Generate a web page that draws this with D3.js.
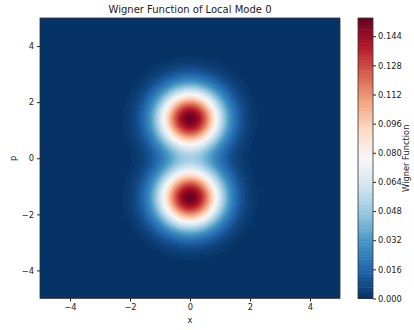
<!DOCTYPE html>
<html>
<head>
<meta charset="utf-8">
<script src="https://cdn.jsdelivr.net/npm/d3@7"></script>
<style>
  body { margin: 0; background: #fff; }
  text { font-family: "DejaVu Sans", sans-serif; fill: #222; }
  .axis path, .axis line { stroke: #222; }
</style>
</head>
<body>
<div id="app"></div>
<script>
// values
const xTicks = [ -4, -2, 0, 2, 4 ];
const pTicks = [ -4, -2, 0, 2, 4 ];
const cbTicks = [ 0, 0.016, 0.032, 0.048, 0.064, 0.080, 0.096, 0.112, 0.128, 0.144 ];
const cbMax = 0.154;
const nLevels = 100;

// the two blobs (gaussian peaks) of the wigner function
const peakX = [ 0, 0 ];
const peakP = [ 1.4, -1.4 ];
const peakHeight = [ 0.153, 0.153 ];
const peakWidth = [ 0.74, 0.74 ];

// RdBu_r stops
const rdbuR = [ '#053061', '#2166ac', '#4393c3', '#92c5de', '#d1e5f0', '#f7f7f7',
                '#fddbc7', '#f4a582', '#d6604d', '#b2182b', '#67001f' ];

const W = 414, H = 330;
const plot = { left: 40, right: 340, top: 18, bottom: 298.5 };
const cb = { left: 358, right: 373 };

const svg = d3.select( '#app' ).append( 'svg' )
  .attr( 'width', W ).attr( 'height', H );

const xScale = d3.scaleLinear().domain( [ -5, 5 ] ).range( [ plot.left, plot.right ] );
const yScale = d3.scaleLinear().domain( [ -5, 5 ] ).range( [ plot.bottom, plot.top ] );
const color = d3.scaleLinear()
  .domain( rdbuR.map( ( c, i ) => cbMax * i / ( rdbuR.length - 1 ) ) )
  .range( rdbuR )
  .clamp( true );

const levels = d3.range( nLevels + 1 ).map( i => cbMax * i / nLevels );
const bandColor = i => color( ( levels[i] + levels[Math.min( i + 1, nLevels )] ) / 2 );

// sample the function on a grid
const n = 241;
const step = 10 / ( n - 1 );
const values = new Array( n * n );
for ( let j = 0; j < n; j++ ) {
  const p = -5 + j * step;
  for ( let i = 0; i < n; i++ ) {
    const x = -5 + i * step;
    let v = 0;
    for ( let k = 0; k < peakX.length; k++ ) {
      const dx = x - peakX[k], dp = p - peakP[k];
      v += peakHeight[k] * Math.exp( -( dx * dx + dp * dp ) / ( 2 * peakWidth[k] * peakWidth[k] ) );
    }
    values[j * n + i] = v;
  }
}

const contours = d3.contours().size( [ n, n ] ).thresholds( levels.slice( 1, nLevels ) )( values );

const proj = d3.geoTransform( {
  point: function ( u, v ) {
    this.stream.point( xScale( -5 + ( u - 0.5 ) * step ), yScale( -5 + ( v - 0.5 ) * step ) );
  }
} );
const path = d3.geoPath( proj );

svg.append( 'clipPath' ).attr( 'id', 'clip' )
  .append( 'rect' )
  .attr( 'x', plot.left ).attr( 'y', plot.top )
  .attr( 'width', plot.right - plot.left ).attr( 'height', plot.bottom - plot.top );

const g = svg.append( 'g' ).attr( 'clip-path', 'url(#clip)' );
g.append( 'rect' )
  .attr( 'x', plot.left ).attr( 'y', plot.top )
  .attr( 'width', plot.right - plot.left ).attr( 'height', plot.bottom - plot.top )
  .attr( 'fill', bandColor( 0 ) );
g.selectAll( 'path' )
  .data( contours )
  .enter()
  .append( 'path' )
  .attr( 'd', path )
  .attr( 'fill', ( d, i ) => bandColor( i + 1 ) )
  .attr( 'stroke', ( d, i ) => bandColor( i + 1 ) )
  .attr( 'stroke-width', 0.3 );

// frame + axes
svg.append( 'rect' )
  .attr( 'x', plot.left ).attr( 'y', plot.top )
  .attr( 'width', plot.right - plot.left ).attr( 'height', plot.bottom - plot.top )
  .attr( 'fill', 'none' ).attr( 'stroke', '#333' ).attr( 'stroke-width', 0.8 );

const xAxis = svg.append( 'g' ).attr( 'class', 'axis' )
  .attr( 'transform', `translate(0,${plot.bottom})` )
  .call( d3.axisBottom( xScale ).tickValues( xTicks ).tickSize( 3 ).tickPadding( 3 )
    .tickFormat( d => d < 0 ? '\u2212' + Math.abs( d ) : d ) );
xAxis.select( '.domain' ).remove();

const yAxis = svg.append( 'g' ).attr( 'class', 'axis' )
  .attr( 'transform', `translate(${plot.left},0)` )
  .call( d3.axisLeft( yScale ).tickValues( pTicks ).tickSize( 3 ).tickPadding( 3 )
    .tickFormat( d => d < 0 ? '\u2212' + Math.abs( d ) : d ) );
yAxis.select( '.domain' ).remove();

svg.selectAll( '.axis text' ).style( 'font-size', '8.3px' );

svg.append( 'text' )
  .attr( 'x', ( plot.left + plot.right ) / 2 ).attr( 'y', 323 )
  .attr( 'text-anchor', 'middle' ).style( 'font-size', '8.3px' )
  .text( 'x' );

svg.append( 'text' )
  .attr( 'transform', `translate(16,${( plot.top + plot.bottom ) / 2}) rotate(-90)` )
  .attr( 'text-anchor', 'middle' ).style( 'font-size', '8.3px' )
  .text( 'p' );

svg.append( 'text' )
  .attr( 'x', ( plot.left + plot.right ) / 2 ).attr( 'y', 13 )
  .attr( 'text-anchor', 'middle' ).style( 'font-size', '10px' )
  .text( 'Wigner Function of Local Mode 0' );

// colorbar
const cbScale = d3.scaleLinear().domain( [ 0, cbMax ] ).range( [ plot.bottom, plot.top ] );
svg.append( 'g' )
  .selectAll( 'rect' )
  .data( d3.range( nLevels ) )
  .enter()
  .append( 'rect' )
  .attr( 'x', cb.left )
  .attr( 'width', cb.right - cb.left )
  .attr( 'y', i => cbScale( levels[i + 1] ) )
  .attr( 'height', i => cbScale( levels[i] ) - cbScale( levels[i + 1] ) + 0.5 )
  .attr( 'fill', i => bandColor( i ) );

svg.append( 'rect' )
  .attr( 'x', cb.left ).attr( 'y', plot.top )
  .attr( 'width', cb.right - cb.left ).attr( 'height', plot.bottom - plot.top )
  .attr( 'fill', 'none' ).attr( 'stroke', '#333' ).attr( 'stroke-width', 0.8 );

const cbAxis = svg.append( 'g' ).attr( 'class', 'axis' )
  .attr( 'transform', `translate(${cb.right},0)` )
  .call( d3.axisRight( cbScale ).tickValues( cbTicks ).tickSize( 3 ).tickPadding( 2 )
    .tickFormat( d3.format( '.3f' ) ) );
cbAxis.select( '.domain' ).remove();
cbAxis.selectAll( 'text' ).style( 'font-size', '8.3px' );

svg.append( 'text' )
  .attr( 'transform', `translate(409,${( plot.top + plot.bottom ) / 2}) rotate(-90)` )
  .attr( 'text-anchor', 'middle' ).style( 'font-size', '8.3px' )
  .text( 'Wigner Function' );
</script>
</body>
</html>
